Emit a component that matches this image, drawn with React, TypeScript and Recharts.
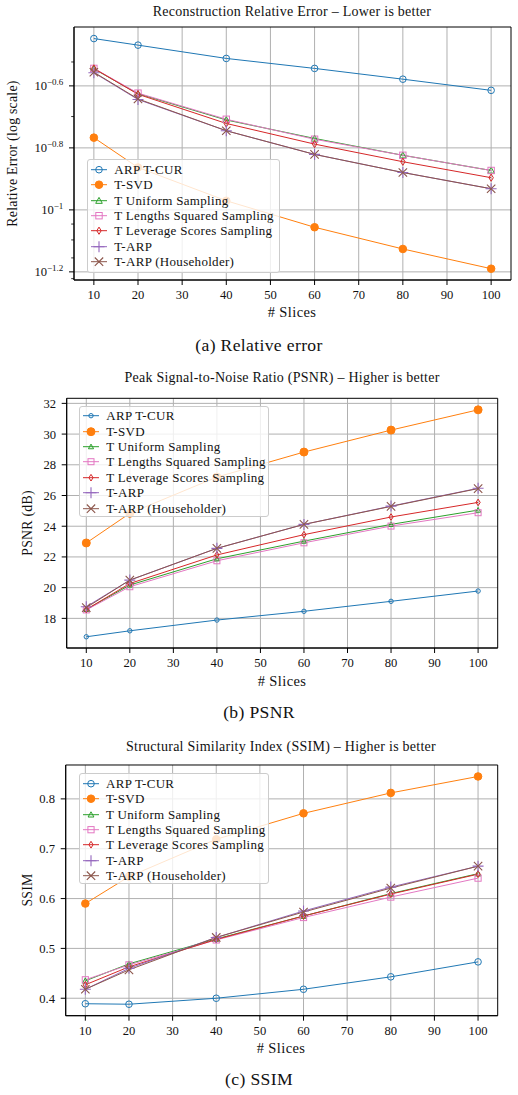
import React from 'react';
import { LineChart, Line, XAxis, YAxis, CartesianGrid, Legend, ReferenceArea } from 'recharts';

const FONT = "'Liberation Serif', serif";

// ---------- data ----------
const slices = [10, 20, 40, 60, 80, 100];
const xTicks = [10, 20, 30, 40, 50, 60, 70, 80, 90, 100];

const seriesNames = [
  'ARP T-CUR',
  'T-SVD',
  'T Uniform Sampling',
  'T Lengths Squared Sampling',
  'T Leverage Scores Sampling',
  'T-ARP',
  'T-ARP (Householder)',
];
const seriesKeys = ['arp', 'svd', 'uni', 'len', 'lev', 'tarp', 'house'];
const seriesColors = ['#1f77b4', '#ff7f0e', '#2ca02c', '#e377c2', '#d62728', '#9467bd', '#8c564b'];
const seriesMarkers = ['circle', 'dot', 'triangle', 'square', 'diamond', 'plus', 'cross'];

// Relative error (log scale)
const errArp = [0.357, 0.34, 0.308, 0.286, 0.264, 0.243];
const errSvd = [0.171, 0.137, 0.107, 0.0879, 0.0748, 0.0646];
const errUni = [0.285, 0.237, 0.195, 0.17, 0.15, 0.134];
const errLen = [0.286, 0.238, 0.196, 0.169, 0.15, 0.134];
const errLev = [0.286, 0.236, 0.19, 0.163, 0.143, 0.127];
const errTarp = [0.277, 0.227, 0.18, 0.151, 0.132, 0.117];
const errHouse = [0.278, 0.228, 0.18, 0.151, 0.132, 0.117];
const errTickExps = [-1.2, -1, -0.8, -0.6];
const errMinorTicks = [0.06, 0.07, 0.08, 0.09, 0.2, 0.3];

// PSNR
const psnrArp = [16.8, 17.19, 17.89, 18.46, 19.11, 19.78];
const psnrSvd = [22.91, 24.84, 27.2, 28.83, 30.26, 31.58];
const psnrUni = [18.58, 20.17, 21.88, 23.03, 24.12, 25.05];
const psnrLen = [18.55, 20.06, 21.75, 22.92, 24.01, 24.88];
const psnrLev = [18.58, 20.27, 22.13, 23.45, 24.6, 25.55];
const psnrTarp = [18.76, 20.49, 22.56, 24.12, 25.31, 26.47];
const psnrHouse = [18.7, 20.49, 22.56, 24.12, 25.29, 26.45];
const psnrTicks = [18, 20, 22, 24, 26, 28, 30, 32];

// SSIM
const ssimArp = [0.389, 0.388, 0.4, 0.418, 0.443, 0.473];
const ssimSvd = [0.59, 0.644, 0.719, 0.771, 0.812, 0.845];
const ssimUni = [0.435, 0.469, 0.519, 0.565, 0.61, 0.65];
const ssimLen = [0.437, 0.467, 0.517, 0.562, 0.603, 0.641];
const ssimLev = [0.427, 0.463, 0.518, 0.565, 0.609, 0.649];
const ssimTarp = [0.418, 0.46, 0.522, 0.575, 0.623, 0.665];
const ssimHouse = [0.418, 0.457, 0.522, 0.573, 0.621, 0.665];
const ssimTicks = [0.4, 0.5, 0.6, 0.7, 0.8];

const buildRows = (cols: number[][]) =>
  slices.map((x, i) => {
    const row: Record<string, number> = { x };
    seriesKeys.forEach((k, j) => {
      row[k] = cols[j][i];
    });
    return row;
  });

const errRows = buildRows([errArp, errSvd, errUni, errLen, errLev, errTarp, errHouse]);
const psnrRows = buildRows([psnrArp, psnrSvd, psnrUni, psnrLen, psnrLev, psnrTarp, psnrHouse]);
const ssimRows = buildRows([ssimArp, ssimSvd, ssimUni, ssimLen, ssimLev, ssimTarp, ssimHouse]);

// ---------- markers ----------
type Sizes = { circle: number; dot: number; tri: number; sq: number; dw: number; dh: number; plus: number; cross: number };

function Marker({ type, cx, cy, color, s }: { type: string; cx: number; cy: number; color: string; s: Sizes }) {
  if (cx == null || cy == null || isNaN(cx) || isNaN(cy)) return <g />;
  switch (type) {
    case 'circle':
      return <circle cx={cx} cy={cy} r={s.circle} fill="none" stroke={color} strokeWidth={1} />;
    case 'dot':
      return <circle cx={cx} cy={cy} r={s.dot} fill={color} stroke={color} strokeWidth={1} />;
    case 'triangle': {
      const t = s.tri;
      return (
        <polygon
          points={`${cx},${cy - t} ${cx - t},${cy + t * 0.8} ${cx + t},${cy + t * 0.8}`}
          fill="none"
          stroke={color}
          strokeWidth={1}
        />
      );
    }
    case 'square':
      return <rect x={cx - s.sq} y={cy - s.sq} width={s.sq * 2} height={s.sq * 2} fill="none" stroke={color} strokeWidth={1} />;
    case 'diamond':
      return (
        <polygon
          points={`${cx},${cy - s.dh} ${cx + s.dw},${cy} ${cx},${cy + s.dh} ${cx - s.dw},${cy}`}
          fill="none"
          stroke={color}
          strokeWidth={1}
        />
      );
    case 'plus':
      return (
        <path
          d={`M${cx - s.plus},${cy}H${cx + s.plus}M${cx},${cy - s.plus}V${cy + s.plus}`}
          stroke={color}
          strokeWidth={1.1}
          fill="none"
        />
      );
    case 'cross':
      return (
        <path
          d={`M${cx - s.cross},${cy - s.cross}L${cx + s.cross},${cy + s.cross}M${cx - s.cross},${cy + s.cross}L${cx + s.cross},${cy - s.cross}`}
          stroke={color}
          strokeWidth={1.1}
          fill="none"
        />
      );
    default:
      return <g />;
  }
}

const sizesErr: Sizes = { circle: 3.3, dot: 3.8, tri: 3.3, sq: 3.2, dw: 2.2, dh: 3.6, plus: 5.5, cross: 4.2 };
const sizesPsnr: Sizes = { circle: 2.2, dot: 4, tri: 2.6, sq: 3, dw: 2.1, dh: 3.3, plus: 5.5, cross: 4.2 };
const sizesSsim: Sizes = { circle: 3.3, dot: 3.8, tri: 2.9, sq: 3.1, dw: 2.1, dh: 3.4, plus: 5.5, cross: 4.2 };

// ---------- legend ----------
function LegendBox({ s, width, height }: { s: Sizes; width: number; height: number }) {
  return (
    <div
      style={{
        width,
        height,
        boxSizing: 'border-box',
        border: '1px solid #cccccc',
        borderRadius: 3,
        background: 'rgba(255,255,255,0.8)',
        paddingTop: 1.5,
      }}
    >
      {seriesNames.map((name, i) => (
        <div key={name} style={{ height: 15.4, display: 'flex', alignItems: 'center' }}>
          <svg width={23} height={15.4} style={{ marginLeft: 3, flex: 'none' }}>
            <line x1={0} x2={16} y1={7.7} y2={7.7} stroke={seriesColors[i]} strokeWidth={1} />
            <Marker type={seriesMarkers[i]} cx={8} cy={7.7} color={seriesColors[i]} s={s} />
          </svg>
          <span
            style={{
              fontFamily: FONT,
              fontSize: 13,
              letterSpacing: 0.3,
              lineHeight: '15.4px',
              whiteSpace: 'nowrap',
              color: '#111',
            }}
          >
            {name}
          </span>
        </div>
      ))}
    </div>
  );
}

// ---------- log tick ----------
const errMajors = errTickExps.map((e) => Math.pow(10, e));
const errAllTicks = [...errMinorTicks, ...errMajors].sort((a, b) => a - b);
const TICK_SIZE = 5;
const TICK_MARGIN = 5.7;
const TICK_FONT = 12.6;
const X_AXIS_H = 32;

function LogTick(props: any) {
  const { x, y, payload } = props;
  const v = payload.value;
  const idx = errMajors.findIndex((m) => Math.abs(m - v) / m < 1e-6);
  const axisX = x + TICK_SIZE + TICK_MARGIN;
  if (idx < 0) {
    return <line x1={axisX - 2.8} x2={axisX} y1={y} y2={y} stroke="#000" strokeWidth={0.8} />;
  }
  const exp = String(errTickExps[idx]).replace('-', '\u2212');
  return (
    <g>
      <line x1={axisX - TICK_SIZE} x2={axisX} y1={y} y2={y} stroke="#000" strokeWidth={1} />
      <text x={x} y={y + 4.2} textAnchor="end" fontFamily={FONT} fontSize={TICK_FONT} fill="#111">
        <tspan>10</tspan>
        <tspan dy={-5.2} fontSize={9}>
          {exp}
        </tspan>
      </text>
    </g>
  );
}

// ---------- panel ----------
type PanelProps = {
  top: number;
  plotHeight: number;
  marginTop: number;
  marginRight: number;
  yWidth: number;
  rows: Record<string, number>[];
  yDomain: [number, number];
  log?: boolean;
  yTicks: number[];
  sizes: Sizes;
  legend: { left: number; top: number; width: number; height: number };
};

function Panel(p: PanelProps) {
  const tickStyle = { fontFamily: FONT, fontSize: TICK_FONT, fill: '#111' };
  const height = p.marginTop + p.plotHeight + X_AXIS_H;
  return (
    <div style={{ position: 'absolute', left: 0, top: p.top }}>
      <LineChart width={518} height={height} data={p.rows} margin={{ top: p.marginTop, right: p.marginRight, bottom: 0, left: 0 }}>
        <CartesianGrid
          stroke="#b0b0b0"
          strokeWidth={1}
          horizontalValues={p.log ? errMajors : p.yTicks}
          verticalValues={xTicks}
        />
        <XAxis
          dataKey="x"
          type="number"
          domain={[5.5, 104.5]}
          allowDataOverflow
          ticks={xTicks}
          interval={0}
          height={X_AXIS_H}
          tickSize={5}
          tickMargin={5.5}
          tick={tickStyle}
          axisLine={{ stroke: '#000' }}
          tickLine={{ stroke: '#000' }}
        />
        {p.log ? (
          <YAxis
            type="number"
            scale="log"
            domain={p.yDomain}
            allowDataOverflow
            ticks={errAllTicks}
            interval={0}
            width={p.yWidth}
            tickSize={TICK_SIZE}
            tickMargin={TICK_MARGIN}
            tickLine={false}
            tick={LogTick}
            axisLine={{ stroke: '#000' }}
          />
        ) : (
          <YAxis
            type="number"
            domain={p.yDomain}
            allowDataOverflow
            ticks={p.yTicks}
            interval={0}
            width={p.yWidth}
            tickSize={TICK_SIZE}
            tickMargin={TICK_MARGIN}
            tick={tickStyle}
            axisLine={{ stroke: '#000' }}
            tickLine={{ stroke: '#000' }}
          />
        )}
        {seriesKeys.map((k, i) => (
          <Line
            key={k}
            type="linear"
            dataKey={k}
            name={seriesNames[i]}
            stroke={seriesColors[i]}
            strokeWidth={1}
            isAnimationActive={false}
            activeDot={false}
            dot={(d: any) => (
              <Marker key={`${k}-${d.index}`} type={seriesMarkers[i]} cx={d.cx} cy={d.cy} color={seriesColors[i]} s={p.sizes} />
            )}
          />
        ))}
        <ReferenceArea
          x1={5.5}
          x2={104.5}
          y1={p.yDomain[0]}
          y2={p.yDomain[1]}
          fill="none"
          fillOpacity={0}
          stroke="#000"
          strokeWidth={1}
          ifOverflow="visible"
        />
        <Legend
          layout="horizontal"
          verticalAlign="middle"
          align="center"
          wrapperStyle={{ left: p.legend.left, top: p.legend.top, width: p.legend.width, height: p.legend.height }}
          content={() => <LegendBox s={p.sizes} width={p.legend.width} height={p.legend.height} />}
        />
      </LineChart>
    </div>
  );
}

// ---------- text ----------
const texts = [
  { t: 'Reconstruction Relative Error \u2013 Lower is better', x: 292, y: 16.2, size: 14, ls: 0.25 },
  { t: '# Slices', x: 292, y: 317.3, size: 14.5, ls: 0.4 },
  { t: '(a) Relative error', x: 259, y: 350.7, size: 17.6, ls: 0.35 },
  { t: 'Peak Signal-to-Noise Ratio (PSNR) \u2013 Higher is better', x: 282, y: 382.3, size: 14, ls: 0.25 },
  { t: '# Slices', x: 282, y: 686, size: 14.5, ls: 0.4 },
  { t: '(b) PSNR', x: 259, y: 718.3, size: 17.6, ls: 0.35 },
  { t: 'Structural Similarity Index (SSIM) \u2013 Higher is better', x: 281, y: 750.5, size: 14, ls: 0.25 },
  { t: '# Slices', x: 281, y: 1052.7, size: 14.5, ls: 0.4 },
  { t: '(c) SSIM', x: 259, y: 1085, size: 17.6, ls: 0.35 },
];
const yLabels = [
  { t: 'Relative Error (log scale)', x: 16.5, y: 153.5 },
  { t: 'PSNR (dB)', x: 32, y: 523 },
  { t: 'SSIM', x: 31.7, y: 890 },
];

export default function App() {
  return (
    <div style={{ position: 'absolute', left: 0, top: 0, width: 518, height: 1095, background: '#fff', overflow: 'hidden' }}>
      <svg width={518} height={1095} style={{ position: 'absolute', left: 0, top: 0 }}>
        {texts.map((d, i) => (
          <text key={i} x={d.x} y={d.y} textAnchor="middle" fontFamily={FONT} fontSize={d.size} letterSpacing={d.ls} fill="#111">
            {d.t}
          </text>
        ))}
        {yLabels.map((d, i) => (
          <text
            key={`y${i}`}
            x={d.x}
            y={d.y}
            transform={`rotate(-90 ${d.x} ${d.y})`}
            textAnchor="middle"
            fontFamily={FONT}
            fontSize={13.8}
            letterSpacing={0.25}
            fill="#111"
          >
            {d.t}
          </text>
        ))}
      </svg>
      <Panel
        top={0}
        plotHeight={253}
        marginTop={27}
        marginRight={7}
        yWidth={74}
        rows={errRows}
        yDomain={[0.0594, 0.389]}
        log
        yTicks={errMajors}
        sizes={sizesErr}
        legend={{ left: 87.3, top: 159.3, width: 193, height: 113.4 }}
      />
      <Panel
        top={370}
        plotHeight={249.7}
        marginTop={28.3}
        marginRight={20.3}
        yWidth={66.7}
        rows={psnrRows}
        yDomain={[16.07, 32.33]}
        yTicks={psnrTicks}
        sizes={sizesPsnr}
        legend={{ left: 79.3, top: 35.7, width: 190, height: 111 }}
      />
      <Panel
        top={735}
        plotHeight={250.7}
        marginTop={30}
        marginRight={20.3}
        yWidth={65.7}
        rows={ssimRows}
        yDomain={[0.365, 0.868]}
        yTicks={ssimTicks}
        sizes={sizesSsim}
        legend={{ left: 79, top: 38.3, width: 190.3, height: 111 }}
      />
    </div>
  );
}
